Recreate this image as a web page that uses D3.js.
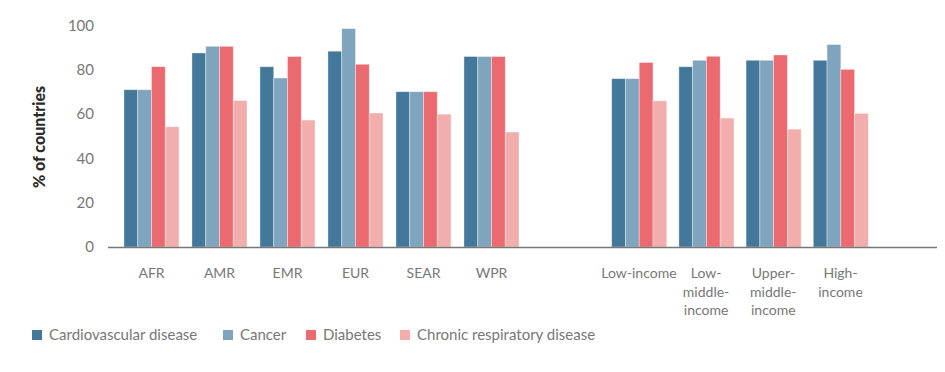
<!DOCTYPE html>
<html>
<head>
<meta charset="utf-8">
<script src="https://cdn.jsdelivr.net/npm/d3@7"></script>
<style>
  body { margin: 0; background: #fff; }
  text { font-family: Lato, "Open Sans", sans-serif; }
</style>
</head>
<body>
<div id="chart"></div>
<script>
// series, in legend order
var seriesNames = ["Cardiovascular disease", "Cancer", "Diabetes", "Chronic respiratory disease"];
var seriesColors = ["#44789a", "#7fa5be", "#eb6a6f", "#f2aeac"];

// WHO regions
var regions = ["AFR", "AMR", "EMR", "EUR", "SEAR", "WPR"];
var regionValues = [
  [71, 71, 81.4, 54.3],
  [87.6, 90.6, 90.6, 66.2],
  [81.4, 76.3, 86, 57.3],
  [88.4, 98.6, 82.5, 60.5],
  [70.1, 70.1, 70.1, 60],
  [86, 86, 86, 51.9]
];

// World Bank income groups (labels wrapped as in the source)
var incomes = ["Low-income", "Low-|middle-|income", "Upper-|middle-|income", "High-|income"];
var incomeValues = [
  [76, 76, 83.3, 66],
  [81.4, 84.3, 86.1, 58.2],
  [84.3, 84.3, 86.7, 53.2],
  [84.3, 91.4, 80.2, 60.3]
];

var yTicks = [0, 20, 40, 60, 80, 100];

var width = 945,
    height = 372;

var svg = d3.select("#chart")
  .append("svg")
  .attr("width", width)
  .attr("height", height);

var y = d3.scaleLinear()
  .domain([0, 100])
  .range([247, 25.5]);

// two separate band scales, the income block sits after a wide gap
var xRegion = d3.scaleBand()
  .domain(regions)
  .range([117.5, 525.5])
  .paddingInner(0.19)
  .paddingOuter(0.095);

var xIncome = d3.scaleBand()
  .domain(incomes)
  .range([605.3, 874.1])
  .paddingInner(0.19)
  .paddingOuter(0.095);

var xSeries = d3.scaleBand()
  .domain(seriesNames)
  .range([0, xRegion.bandwidth()]);

var color = d3.scaleOrdinal()
  .domain(seriesNames)
  .range(seriesColors);

// y tick labels (no axis line)
var yAxis = svg.append("g")
  .attr("transform", "translate(96,0)")
  .call(d3.axisLeft(y).tickValues(yTicks).tickSize(0).tickPadding(2));
yAxis.select(".domain").remove();
yAxis.selectAll("text")
  .attr("fill", "#777")
  .style("font-size", "15px")
  .style("font-family", "Lato, sans-serif");

svg.append("text")
  .attr("transform", "translate(45,137) rotate(-90)")
  .attr("text-anchor", "middle")
  .attr("fill", "#2b2b2b")
  .style("font-size", "16px")
  .style("font-weight", "900")
  .text("% of countries");

function drawGroups(cls, scale, cats, values) {
  var g = svg.append("g").attr("class", cls)
    .selectAll("g")
    .data(cats)
    .enter().append("g")
    .attr("transform", function(d) { return "translate(" + scale(d) + ",0)"; });

  g.selectAll("rect")
    .data(function(d, i) {
      return values[i].map(function(v, j) { return {key: seriesNames[j], value: v}; });
    })
    .enter().append("rect")
    .attr("x", function(d) { return xSeries(d.key); })
    .attr("y", function(d) { return y(d.value); })
    .attr("width", xSeries.bandwidth())
    .attr("height", function(d) { return y(0) - y(d.value); })
    .attr("fill", function(d) { return color(d.key); })
    .attr("stroke", "#fff")
    .attr("stroke-opacity", 0.45)
    .attr("stroke-width", 0.8);

  // category labels, split on | for line breaks
  var lbl = svg.append("g").attr("class", cls + "-labels")
    .selectAll("text")
    .data(cats)
    .enter().append("text")
    .attr("x", function(d) { return scale(d) + scale.bandwidth() / 2; })
    .attr("y", 278)
    .attr("text-anchor", "middle")
    .attr("fill", "#777")
    .style("font-size", "14px");
  lbl.selectAll("tspan")
    .data(function(d) { return d.split("|"); })
    .enter().append("tspan")
    .attr("x", function() { return d3.select(this.parentNode).attr("x"); })
    .attr("dy", function(d, i) { return i === 0 ? 0 : 18.5; })
    .text(function(d) { return d; });
}

drawGroups("regions", xRegion, regions, regionValues);
drawGroups("incomes", xIncome, incomes, incomeValues);

// baseline
svg.append("line")
  .attr("x1", 108)
  .attr("x2", 937)
  .attr("y1", y(0) + 0.5)
  .attr("y2", y(0) + 0.5)
  .attr("stroke", "#777")
  .attr("stroke-width", 1.5);

// legend
var legendX = [32, 223, 306, 400];
var legend = svg.append("g").attr("class", "legend")
  .selectAll("g")
  .data(seriesNames)
  .enter().append("g")
  .attr("transform", function(d, i) { return "translate(" + legendX[i] + ",330)"; });

legend.append("rect")
  .attr("width", 10)
  .attr("height", 10)
  .attr("fill", function(d) { return color(d); });

legend.append("text")
  .attr("x", 17)
  .attr("y", 10)
  .attr("fill", "#777")
  .style("font-size", "15px")
  .text(function(d) { return d; });
</script>
</body>
</html>
